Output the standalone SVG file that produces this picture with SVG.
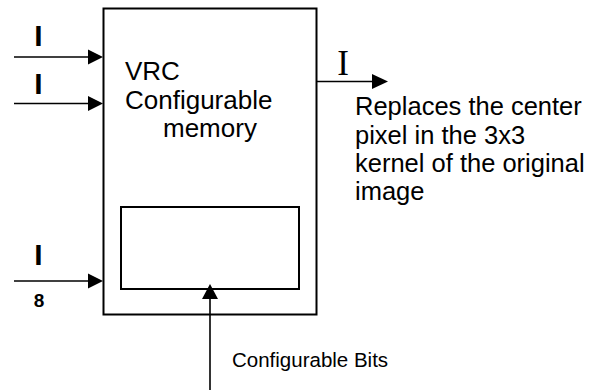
<svg xmlns="http://www.w3.org/2000/svg" width="594" height="390" viewBox="0 0 594 390">
  <style>
    .box { fill: none; stroke: #000; stroke-width: 2; }
    .wire { stroke: #000; stroke-width: 1.6; fill: none; }
    .head { fill: #000; stroke: none; }
    .txt { font-family: "Liberation Sans", Arial, sans-serif; fill: #000; }
    .bold { font-family: "Liberation Sans", Arial, sans-serif; font-weight: bold; fill: #000; }
    .serif { font-family: "Liberation Serif", "Times New Roman", serif; fill: #000; }
  </style>
  <rect width="594" height="390" fill="#fff"/>

  <!-- main block: VRC configurable memory -->
  <g id="vrc-memory">
    <rect class="box" x="103.5" y="8.5" width="213" height="306"/>
    <text class="txt" font-size="26" x="125" y="80">VRC</text>
    <text class="txt" font-size="26" x="125" y="109">Configurable</text>
    <text class="txt" font-size="26" x="163" y="137">memory</text>
  </g>

  <!-- configuration register inside the block -->
  <g id="config-register">
    <rect class="box" x="121" y="207" width="178" height="82"/>
  </g>

  <!-- connectors -->
  <g id="connectors">
    <line class="wire" x1="14" y1="57" x2="90" y2="57"/>
    <polygon class="head" points="88,49.5 103,57 88,64.5"/>
    <line class="wire" x1="14" y1="103.5" x2="90" y2="103.5"/>
    <polygon class="head" points="88,96 103,103.5 88,111"/>
    <line class="wire" x1="14" y1="281" x2="90" y2="281"/>
    <polygon class="head" points="88,273.5 103,281 88,288.5"/>
    <line class="wire" x1="317" y1="81.5" x2="374" y2="81.5"/>
    <polygon class="head" points="372,74 388,81.5 372,89"/>
    <line class="wire" x1="210" y1="390" x2="210" y2="297"/>
    <polygon class="head" points="202,299 210,284 218,299"/>
  </g>

  <!-- input labels -->
  <g id="input-1">
    <text class="bold" font-size="30" x="38.5" y="46" text-anchor="middle">I</text>
  </g>
  <g id="input-2">
    <text class="bold" font-size="30" x="38.5" y="94" text-anchor="middle">I</text>
  </g>
  <g id="input-8">
    <text class="bold" font-size="30" x="38.5" y="265" text-anchor="middle">I</text>
    <text class="bold" font-size="19" x="39" y="307" text-anchor="middle">8</text>
  </g>

  <!-- output label and description -->
  <g id="output">
    <text class="serif" font-size="35" x="343" y="75" text-anchor="middle">I</text>
    <text class="txt" font-size="25.5" x="355" y="115">Replaces the center</text>
    <text class="txt" font-size="25.5" x="355" y="144">pixel in the 3x3</text>
    <text class="txt" font-size="25.5" x="355" y="172">kernel of the original</text>
    <text class="txt" font-size="25.5" x="355" y="200">image</text>
  </g>

  <!-- configuration bits label -->
  <g id="config-bits">
    <text class="txt" font-size="20.5" x="232" y="367">Configurable Bits</text>
  </g>
</svg>
